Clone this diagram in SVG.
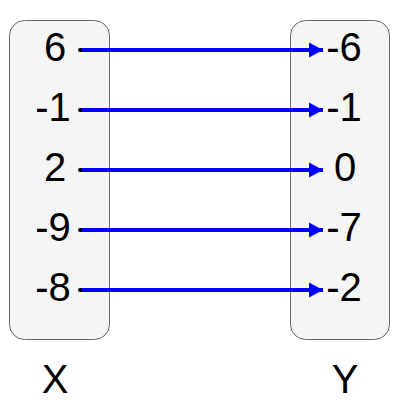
<svg xmlns="http://www.w3.org/2000/svg" width="400" height="400" viewBox="0 0 400 400">
<style>
.box{fill:#f5f5f5;stroke:#666666;stroke-width:1}
.t{font-family:"Liberation Sans",Arial,sans-serif;font-size:40px;fill:#000000;text-anchor:middle}
.c{stroke:#0000ff;stroke-width:4;fill:none;marker-end:url(#ah)}
.d{fill:#000000}
</style>
<defs>
<marker id="ah" markerUnits="userSpaceOnUse" markerWidth="16" markerHeight="16" refX="14" refY="8" orient="auto">
<path d="M0,0.5 L14,8 L0,15.5 Z" fill="#0000ff"/>
</marker>
</defs>
<g id="setX">
<rect class="box" x="9.5" y="20.5" width="100" height="319" rx="15" ry="15"/>
<text class="t" x="55" y="61">6</text>
<text class="t" x="53" y="121">-1</text>
<text class="t" x="55" y="181">2</text>
<text class="t" x="53" y="241">-9</text>
<text class="t" x="53" y="301">-8</text>
</g>
<g id="setY">
<rect class="box" x="290.5" y="20.5" width="99" height="319" rx="15" ry="15"/>
<text class="t" x="344" y="61">-6</text>
<text class="t" x="344" y="121">-1</text>
<text class="t" x="345" y="181">0</text>
<text class="t" x="344" y="241">-7</text>
<text class="t" x="344" y="301">-2</text>
</g>
<g id="labelX"><text class="t" x="55" y="393">X</text></g>
<g id="labelY"><text class="t" x="345" y="393">Y</text></g>
<g id="connectors">
<line class="c" x1="80" y1="50" x2="323" y2="50"/>
<circle class="d" cx="80" cy="50" r="2"/>
<line class="c" x1="80" y1="110" x2="323" y2="110"/>
<circle class="d" cx="80" cy="110" r="2"/>
<line class="c" x1="80" y1="170" x2="323" y2="170"/>
<circle class="d" cx="80" cy="170" r="2"/>
<line class="c" x1="80" y1="230" x2="323" y2="230"/>
<circle class="d" cx="80" cy="230" r="2"/>
<line class="c" x1="80" y1="290" x2="323" y2="290"/>
<circle class="d" cx="80" cy="290" r="2"/>
</g>
</svg>
